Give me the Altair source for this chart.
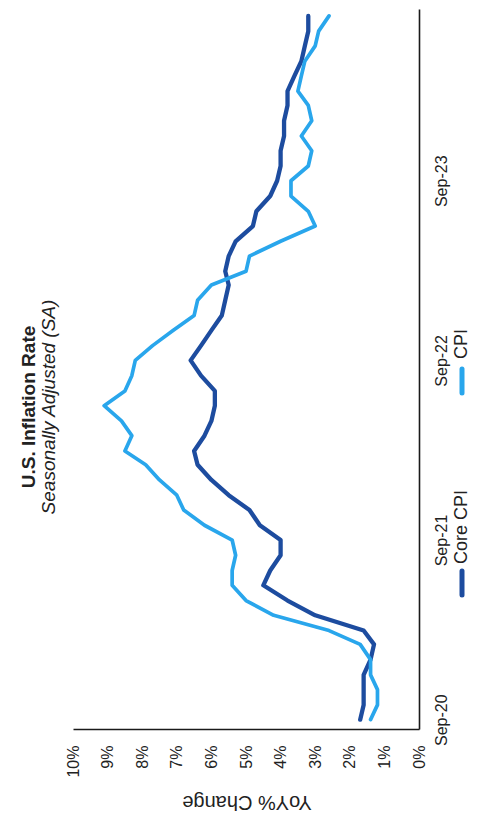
import altair as alt
import pandas as pd

# ---- data ----
months = pd.date_range("2020-09-01", "2024-08-01", freq="MS").strftime("%Y-%m-%dT00:00:00").tolist()

cpi = [1.4, 1.2, 1.2, 1.4,
       1.4, 1.7, 2.6, 4.2, 5.0, 5.4, 5.4, 5.3, 5.4, 6.2, 6.8, 7.0,
       7.5, 7.9, 8.5, 8.3, 8.6, 9.1, 8.5, 8.3, 8.2, 7.7, 7.1, 6.5,
       6.4, 6.0, 5.0, 4.9, 4.0, 3.0, 3.2, 3.7, 3.7, 3.2, 3.1, 3.4,
       3.1, 3.2, 3.5, 3.4, 3.3, 3.0, 2.9, 2.6]

core_cpi = [1.7, 1.6, 1.6, 1.6,
            1.4, 1.3, 1.6, 3.0, 3.8, 4.5, 4.3, 4.0, 4.0, 4.6, 4.9, 5.5,
            6.0, 6.4, 6.5, 6.2, 6.0, 5.9, 5.9, 6.3, 6.6, 6.3, 6.0, 5.7,
            5.6, 5.5, 5.6, 5.5, 5.3, 4.8, 4.7, 4.3, 4.1, 4.0, 4.0, 3.9,
            3.9, 3.8, 3.8, 3.6, 3.4, 3.3, 3.2, 3.2]

series_names = ["Core CPI", "CPI"]
series_colors = ["#1d4c9f", "#29a6ec"]
value_ticks = list(range(0, 11))
time_tick_years = [2020, 2021, 2022, 2023]

title_text = "U.S. Inflation Rate"
subtitle_text = "Seasonally Adjusted (SA)"
value_axis_title = "YoY% Change"

FONT = "Liberation Sans"
TEXT_COLOR = "#222222"

df = pd.DataFrame({
    "date": months * 2,
    "series": ["Core CPI"] * len(core_cpi) + ["CPI"] * len(cpi),
    "value": core_cpi + cpi,
})

lines = alt.Chart(df).mark_line(strokeCap="round", strokeJoin="round").encode(
    x=alt.X("value:Q",
            scale=alt.Scale(domain=[0, 10], reverse=True, nice=False, zero=False),
            axis=alt.Axis(values=value_ticks, labelExpr="datum.value + '%'",
                          labelAngle=270, labelAlign="right", labelBaseline="middle",
                          labelPadding=16, ticks=False, grid=False,
                          domainColor="#1a1a1a", domainWidth=1.6,
                          labelFont=FONT, labelFontSize=16, labelColor=TEXT_COLOR,
                          title=None)),
    y=alt.Y("date:T",
            scale=alt.Scale(domain=[alt.DateTime(year=2020, month=8, date=13),
                                    alt.DateTime(year=2024, month=8, date=15)]),
            axis=alt.Axis(orient="right",
                          values=[alt.DateTime(year=y, month=9, date=1) for y in time_tick_years],
                          format="%b-%y", labelAngle=270, labelAlign="center",
                          labelBaseline="top", labelPadding=14, ticks=False, grid=False,
                          domainColor="#1a1a1a", domainWidth=1.6,
                          labelFont=FONT, labelFontSize=16, labelColor=TEXT_COLOR,
                          title=None)),
    color=alt.Color("series:N", scale=alt.Scale(domain=series_names, range=series_colors), legend=None),
    strokeWidth=alt.StrokeWidth("series:N", scale=alt.Scale(domain=series_names, range=[4.3, 3.7]), legend=None),
    detail="series:N",
)

def text_layer(txt, x, y, angle, size, weight="normal", style="normal", align="center", baseline="alphabetic"):
    return alt.Chart(pd.DataFrame({"t": [txt]})).mark_text(
        font=FONT, fontSize=size, fontWeight=weight, fontStyle=style, angle=angle,
        align=align, baseline=baseline, color=TEXT_COLOR,
    ).encode(text="t:N", x=alt.value(x), y=alt.value(y))

title = text_layer(title_text, -38, 398, 270, 19, weight="bold")
subtitle = text_layer(subtitle_text, -18, 398, 270, 19, style="italic")
axis_title = text_layer(value_axis_title, 174, 787, 180, 20)

legend_layers = []
legend_pos = [(562, 586, 555), (360, 384, 350)]  # swatch y1, y2, text start (plot coords)
for name, color, (s1, s2, ts) in zip(series_names, series_colors, legend_pos):
    sw = alt.Chart(pd.DataFrame({"s": [name]})).mark_rule(
        color=color, strokeWidth=5, strokeCap="round"
    ).encode(x=alt.value(389), y=alt.value(s1), y2=alt.value(s2))
    tx = text_layer(name, 389, ts, 270, 18, align="left", baseline="middle")
    legend_layers += [sw, tx]

chart = alt.layer(lines, title, subtitle, axis_title, *legend_layers).properties(
    width=346, height=720,
    autosize=alt.AutoSizeParams(type="none"),
    padding={"left": 65, "top": 1, "right": 70, "bottom": 90},
).configure_view(stroke=None).resolve_scale(color="independent")

chart.save("out.html", embed_options={"renderer": "svg", "actions": False})
